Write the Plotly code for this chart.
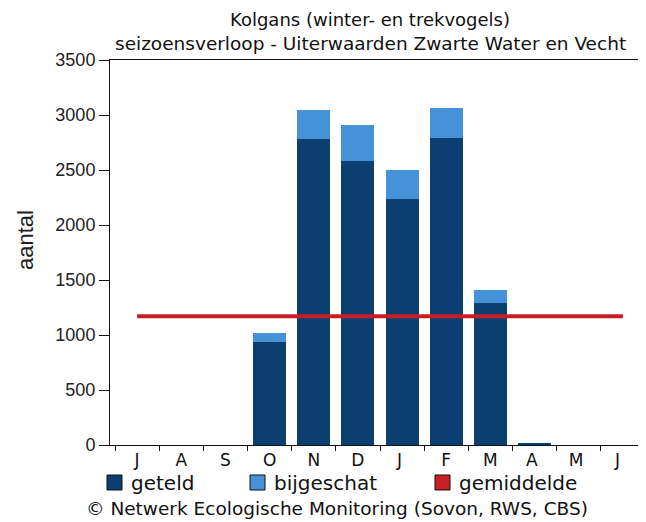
import plotly.graph_objects as go

# ---- data ----
months = ["J", "A", "S", "O", "N", "D", "J ", "F", "M", "A ", "M ", "J  "]
geteld = [0, 0, 0, 935, 2780, 2585, 2235, 2795, 1290, 15, 0, 0]
bijgeschat = [0, 0, 0, 85, 265, 320, 265, 265, 115, 0, 0, 0]
gemiddelde = [1170, 1170, 1170, 1170, 1170, 1170, 1170, 1170, 1170, 1170, 1170, 1170]
y_ticks = [0, 500, 1000, 1500, 2000, 2500, 3000, 3500]

title_line1 = "Kolgans (winter- en trekvogels)"
title_line2 = "seizoensverloop - Uiterwaarden Zwarte Water en Vecht"
legend_names = ["geteld", "bijgeschat", "gemiddelde"]
copyright_text = "© Netwerk Ecologische Monitoring (Sovon, RWS, CBS)"

# ---- styles ----
C_DARK = "#0b3f72"
C_LIGHT = "#4592d8"
C_RED = "#c81e24"
F_PIX = "DejaVu Sans"
F_ARIAL = "Liberation Sans, Arial"

OFF = 8  # page body margin
W, H = 646 - OFF, 522 - OFF
# plot area in page pixels: x 110..645, y 60..445
L, T = 110 - OFF, 60 - OFF
R = W - (645 - OFF)
B = H - (445 - OFF)
pw, ph = W - L - R, H - T - B


def px(x):
    return (x - OFF - L) / pw


def py(y):
    return (H - B - (y - OFF)) / ph


fig = go.Figure()
fig.add_trace(go.Bar(x=months, y=geteld, name=legend_names[0],
                     marker=dict(color=C_DARK, line=dict(width=0)), showlegend=False))
fig.add_trace(go.Bar(x=months, y=bijgeschat, name=legend_names[1],
                     marker=dict(color=C_LIGHT, line=dict(width=0)), showlegend=False))
fig.add_trace(go.Scatter(x=months, y=gemiddelde, name=legend_names[2], mode="lines",
                         line=dict(color=C_RED, width=4), showlegend=False))

annotations = [
    dict(text=title_line1, x=px(370), y=py(20), xref="paper", yref="paper",
         showarrow=False, font=dict(family=F_PIX, size=18, color="#111"),
         xanchor="center", yanchor="middle"),
    dict(text=title_line2, x=px(370), y=py(43), xref="paper", yref="paper",
         showarrow=False, font=dict(family=F_PIX, size=18.5, color="#111"),
         xanchor="center", yanchor="middle"),
    dict(text=copyright_text, x=px(337), y=py(508), xref="paper", yref="paper",
         showarrow=False, font=dict(family=F_PIX, size=18.5, color="#111"),
         xanchor="center", yanchor="middle"),
    dict(text="aantal", x=px(25), y=py(240), xref="paper", yref="paper", textangle=-90,
         showarrow=False, font=dict(family=F_ARIAL, size=22, color="#222"),
         xanchor="center", yanchor="middle"),
]
shapes = []
leg_x = [107, 250, 435]
leg_col = [C_DARK, C_LIGHT, C_RED]
for i, name in enumerate(legend_names):
    shapes.append(dict(type="rect", xref="paper", yref="paper",
                       x0=px(leg_x[i]), x1=px(leg_x[i] + 15), y0=py(475), y1=py(490),
                       fillcolor=leg_col[i], line=dict(color="#111", width=1)))
    annotations.append(dict(text=name, x=px(leg_x[i] + 22), y=py(483), xref="paper", yref="paper",
                            xanchor="left", yanchor="middle", showarrow=False,
                            font=dict(family=F_PIX, size=20, color="#111")))

fig.update_layout(
    width=W, height=H,
    margin=dict(l=L, r=R, t=T, b=B, pad=0),
    paper_bgcolor="white", plot_bgcolor="white",
    barmode="stack", bargap=0.25,
    showlegend=False,
    annotations=annotations, shapes=shapes,
    xaxis=dict(type="category", range=[-0.5 - 5 / 44.17, len(months) - 0.5],
               tickson="boundaries", ticks="outside", ticklen=5, tickcolor="#111",
               showline=True, linecolor="#111", linewidth=1, mirror=True,
               showgrid=False, tickfont=dict(family=F_PIX, size=17, color="#111")),
    yaxis=dict(range=[0, 3500], tickvals=y_ticks, ticks="outside", ticklen=10,
               tickcolor="#111", showline=True, linecolor="#111", linewidth=1,
               showgrid=False, zeroline=False,
               tickfont=dict(family=F_ARIAL, size=18, color="#222")),
)

fig.write_html("out.html")
